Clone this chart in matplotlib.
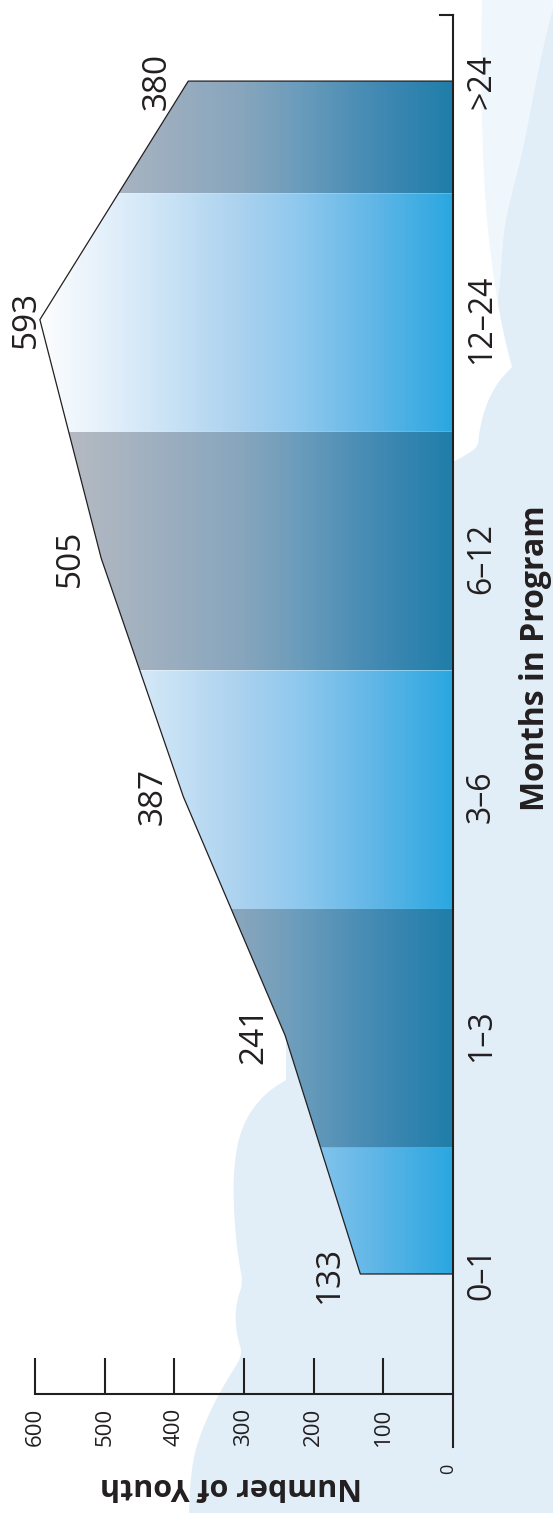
import matplotlib
matplotlib.use("Agg")
import matplotlib.pyplot as plt
import numpy as np
from matplotlib.colors import LinearSegmentedColormap
from matplotlib.patches import Polygon

plt.rcParams["font.family"] = ["Open Sans", "DejaVu Sans"]

# datos
months = ["0–1", "1–3", "3–6", "6–12", "12–24", ">24"]
youth = [133, 241, 387, 505, 593, 380]
value_ticks = [100, 200, 300, 400, 500, 600]

W, H = 553, 1513
INK = "#231f20"

fig = plt.figure(figsize=(W / 100, H / 100), dpi=100)


def px(pts):
    # pixel coords (origin top-left) -> figure fraction
    return [(x / W, 1 - y / H) for x, y in pts]


def smooth(pts, n=3):
    # Chaikin, keeps the end points
    pts = np.asarray(pts, float)
    for _ in range(n):
        q = 0.75 * pts[:-1] + 0.25 * pts[1:]
        r = 0.25 * pts[:-1] + 0.75 * pts[1:]
        mid = np.empty((2 * len(q), 2))
        mid[0::2], mid[1::2] = q, r
        pts = np.vstack([pts[:1], mid, pts[-1:]])
    return [tuple(p) for p in pts]


# nubes del fondo
edge_right = smooth([(553, 8), (540, 60), (523, 150), (510, 200), (503, 233),
                     (499, 300), (490, 340), (453, 380)])
edge_left = smooth([(286, 1080), (270, 1090), (255, 1105), (243, 1125), (236, 1150),
                    (233, 1185), (235, 1230), (239, 1262), (243, 1283), (237, 1300),
                    (235, 1320), (238, 1340), (243, 1355), (228, 1378), (212, 1407),
                    (198, 1440), (191, 1470), (188, 1530)])
cloud_edge = smooth([(482, -5), (481, 70), (482, 130), (485, 200), (490, 250),
                     (497, 300), (505, 340), (512, 367)]) + \
    smooth([(512, 367), (497, 383), (485, 407), (479, 433), (478, 447),
            (466, 455), (453, 462)])[1:]

sky_light = [(470, -5), (560, -5)] + edge_right[:1] + \
    [p for p in edge_right if p[1] <= 300] + [(470, 300)]
sky = edge_right + [(453, 1043), (286, 1043)] + edge_left + [(560, 1530), (560, 8)]
cloud = [(453, -5)] + cloud_edge
for pts, col in [(sky_light, "#eff7fd"), (sky, "#e1eef7"), (cloud, "white")]:
    fig.add_artist(Polygon(px(pts), closed=True, facecolor=col, edgecolor="none",
                           transform=fig.transFigure, zorder=-2))

ax = fig.add_axes([35 / W, 1 - 1394 / H, (453 - 35) / W, (1394 - 15) / H])
ax.patch.set_visible(False)

light = LinearSegmentedColormap.from_list("light", [
    (0.0, "#ffffff"), (0.25, "#d6e9f8"), (0.5, "#a9d1ef"), (0.635, "#8ec8ee"),
    (0.825, "#5db5e6"), (1.0, "#2aa7e0")])
dark = LinearSegmentedColormap.from_list("dark", [
    (0.0, "#bcc0c7"), (0.1, "#b3b9c2"), (0.5, "#87a5bd"), (0.635, "#6a9cbb"),
    (0.825, "#4189b3"), (1.0, "#1f7ea9")])
grad = np.linspace(0, 1, 256)[None, :]

pos = np.arange(len(youth))
edges = np.concatenate([[pos[0]], pos[:-1] + 0.53, [pos[-1]]])

for k in range(len(youth)):
    b0, b1 = edges[k], edges[k + 1]
    inner = pos[(pos > b0) & (pos < b1)]
    ys = np.concatenate([[b0], inner, [b1]])
    xs = np.interp(ys, pos, youth)
    verts = list(zip(xs, ys)) + [(0, b1), (0, b0)]
    band = Polygon(verts, closed=True, facecolor="none", edgecolor="none")
    ax.add_patch(band)
    im = ax.imshow(grad, cmap=dark if k % 2 else light, extent=[600, 0, b0, b1],
                   aspect="auto", interpolation="bilinear", zorder=1)
    im.set_clip_path(band)

# contorno
ax.plot(np.r_[0, youth, 0], np.r_[pos[0], pos, pos[-1]], color=INK, lw=0.9, zorder=3)

for v, p in zip(youth, pos):
    ax.text(min(v + 32, 600), p, str(v), rotation=90, rotation_mode="anchor",
            ha="center", va="baseline", fontsize=24, color=INK, zorder=5)

for m, p in zip(months, pos):
    ax.annotate(m, xy=(0, p), xytext=(26.6, 0), textcoords="offset points",
                rotation=90, rotation_mode="anchor", ha="center", va="baseline",
                fontsize=23, color=INK)

ax.set_xlim(600, 0)
ax.set_ylim(-0.503, 5.277)

ax.set_xticks(value_ticks)
ax.set_xticklabels([str(t) for t in value_ticks], rotation=90, fontsize=16, color=INK)
ax.tick_params(axis="x", direction="in", length=26, width=1.5, pad=10, color=INK)
ax.set_yticks([])
for s in ["top", "left", "right"]:
    ax.spines[s].set_visible(False)
ax.spines["bottom"].set_linewidth(1.5)
ax.spines["bottom"].set_color(INK)

# eje de categorias
ax.axvline(0, ymin=-0.0384, ymax=1, color=INK, lw=1.5, clip_on=False, zorder=4)
ax.plot([0.969, 1], [1, 1], transform=ax.transAxes, color=INK, lw=1.5, clip_on=False)

ax.annotate("0", xy=(0, 0), xycoords=("data", "axes fraction"), xytext=(-3.6, -54),
            textcoords="offset points", rotation=90, ha="center", va="center",
            fontsize=13, color=INK)

fig.text(535 / W, 1 - 658 / H, "Months in Program", rotation=90, ha="center",
         va="center", fontsize=23, fontweight="bold", color=INK)
fig.text(231 / W, 1 - 1486 / H, "Number of Youth", rotation=180, ha="center",
         va="center", fontsize=22, fontweight="bold", color=INK)

fig.savefig("out.png", dpi=100)
